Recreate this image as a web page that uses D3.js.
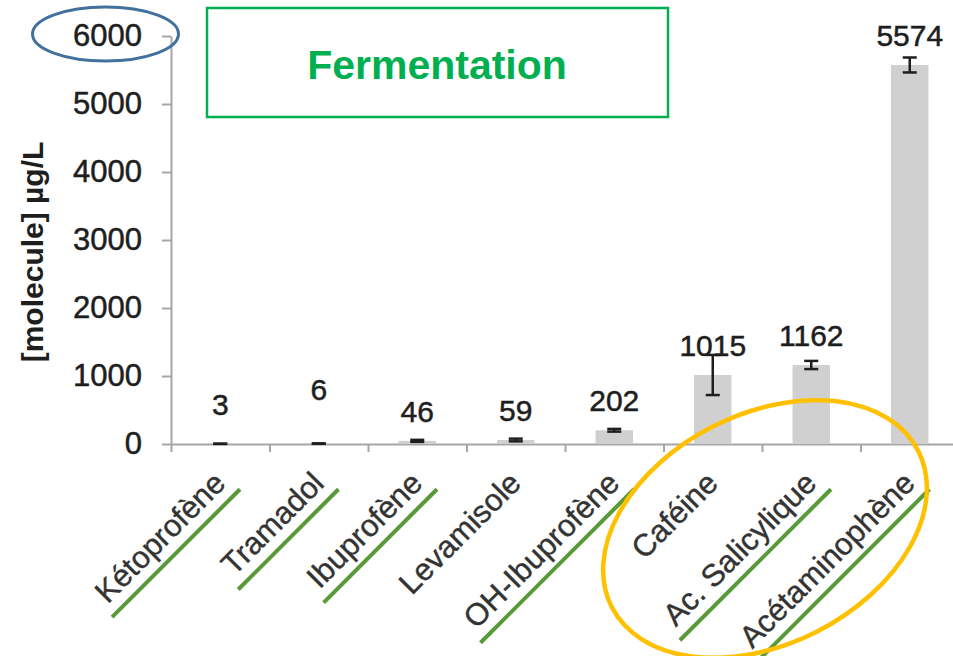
<!DOCTYPE html>
<html>
<head>
<meta charset="utf-8">
<script src="https://cdn.jsdelivr.net/npm/d3@7"></script>
<style>
  html, body { margin: 0; padding: 0; background: #ffffff; }
  svg { display: block; }
</style>
</head>
<body>
<script>
// ---------------- data ----------------
const categories = ["Kétoprofène", "Tramadol", "Ibuprofène", "Levamisole", "OH-Ibuprofène", "Caféine", "Ac. Salicylique", "Acétaminophène"];
const values = [3, 6, 46, 59, 202, 1015, 1162, 5574];
const errors = [2, 3, 15, 20, 20, 295, 60, 110];
const underlined = [true, true, true, false, true, false, true, true];
const yTicks = [0, 1000, 2000, 3000, 4000, 5000, 6000];
const titleText = "Fermentation";
const yTitleText = "[molecule] µg/L";

// ---------------- layout ----------------
const W = 953, H = 656;
const svg = d3.select("body").append("svg").attr("width", W).attr("height", H);
const FONT = "'Liberation Sans', Arial, sans-serif";

const x = d3.scaleBand().domain(categories).range([171, 959]).paddingInner(0.62).paddingOuter(0.31);
const y = d3.scaleLinear().domain([0, 6000]).range([444, 36]);
const xb = d3.scaleLinear().domain([0, categories.length]).range([171, 959]);

// y axis
const yAxis = svg.append("g").attr("transform", "translate(171,0)")
  .call(d3.axisLeft(y).tickValues(yTicks).tickSize(9).tickSizeOuter(0).tickPadding(20).tickFormat(d3.format("d")));
yAxis.select(".domain").attr("stroke", "#a6a6a6").attr("stroke-width", 2);
yAxis.selectAll(".tick line").attr("stroke", "#a6a6a6").attr("stroke-width", 2);
yAxis.selectAll(".tick text").attr("font-family", FONT).attr("font-size", 31).attr("fill", "#1e1e1e")
  .attr("stroke", "#1e1e1e").attr("stroke-width", 0.5);

// x axis (ticks at category boundaries)
const xAxis = svg.append("g").attr("transform", "translate(0,444)")
  .call(d3.axisBottom(xb).tickValues(d3.range(0, categories.length + 1)).tickSize(8).tickSizeOuter(0).tickFormat(""));
xAxis.select(".domain").attr("stroke", "#a6a6a6").attr("stroke-width", 2);
xAxis.selectAll(".tick line").attr("stroke", "#a6a6a6").attr("stroke-width", 2);

// bars
svg.append("g").selectAll("rect").data(values).join("rect")
  .attr("x", (d, i) => x(categories[i]))
  .attr("width", x.bandwidth())
  .attr("y", d => y(d))
  .attr("height", d => y(0) - y(d))
  .attr("fill", "#d0d0d0");

// error bars
const eb = svg.append("g").attr("stroke", "#1e1e1e").attr("stroke-width", 2.5);
values.forEach((v, i) => {
  const cx = x(categories[i]) + x.bandwidth() / 2;
  const top = y(v + errors[i]), bot = y(Math.max(0, v - errors[i]));
  eb.append("line").attr("x1", cx).attr("x2", cx).attr("y1", top).attr("y2", bot);
  eb.append("line").attr("x1", cx - 7).attr("x2", cx + 7).attr("y1", top).attr("y2", top);
  eb.append("line").attr("x1", cx - 7).attr("x2", cx + 7).attr("y1", bot).attr("y2", bot);
});

// value labels (two small labels were moved up by hand in the original)
const labelNudge = [10, 25, 0, 0, 0, 0, 0, 0];
svg.append("g").selectAll("text").data(values).join("text")
  .attr("x", (d, i) => x(categories[i]) + x.bandwidth() / 2)
  .attr("y", (d, i) => y(d) - 19 - labelNudge[i])
  .attr("text-anchor", "middle")
  .attr("font-family", FONT).attr("font-size", 30).attr("fill", "#1e1e1e")
  .attr("stroke", "#1e1e1e").attr("stroke-width", 0.5)
  .text(d => d);

// category labels, rotated, with green underlines
const lab = svg.append("g").selectAll("g").data(categories).join("g")
  .attr("transform", d => `translate(${x(d) + x.bandwidth() / 2 + 7},485) rotate(-45)`);
lab.append("text")
  .attr("text-anchor", "end")
  .attr("font-family", FONT).attr("font-size", 31).attr("fill", "#333333")
  .attr("stroke", "#333333").attr("stroke-width", 0.4)
  .text(d => d);
lab.each(function (d, i) {
  if (!underlined[i]) return;
  const g = d3.select(this);
  const w = g.select("text").node().getComputedTextLength();
  g.append("line").attr("x1", -w - 6).attr("x2", 6).attr("y1", 12).attr("y2", 12)
    .attr("stroke", "#58993a").attr("stroke-width", 4);
});

// y axis title
svg.append("text")
  .attr("transform", "translate(43,252) rotate(-90)")
  .attr("text-anchor", "middle")
  .attr("font-family", FONT).attr("font-size", 30).attr("font-weight", "bold").attr("fill", "#1e1e1e")
  .text(yTitleText);

// title box
svg.append("rect").attr("x", 207).attr("y", 8).attr("width", 461).attr("height", 109)
  .attr("fill", "none").attr("stroke", "#00b050").attr("stroke-width", 2.5);
svg.append("text").attr("x", 437).attr("y", 79).attr("text-anchor", "middle")
  .attr("font-family", FONT).attr("font-size", 41).attr("font-weight", "bold").attr("fill", "#00b050")
  .text(titleText);

// highlight ellipses
svg.append("ellipse").attr("cx", 105.5).attr("cy", 34).attr("rx", 73).attr("ry", 27)
  .attr("fill", "none").attr("stroke", "#41719c").attr("stroke-width", 3);
svg.append("ellipse").attr("transform", "translate(765,529) rotate(-27)")
  .attr("rx", 172).attr("ry", 115)
  .attr("fill", "none").attr("stroke", "#ffc000").attr("stroke-width", 4.5);
</script>
</body>
</html>
